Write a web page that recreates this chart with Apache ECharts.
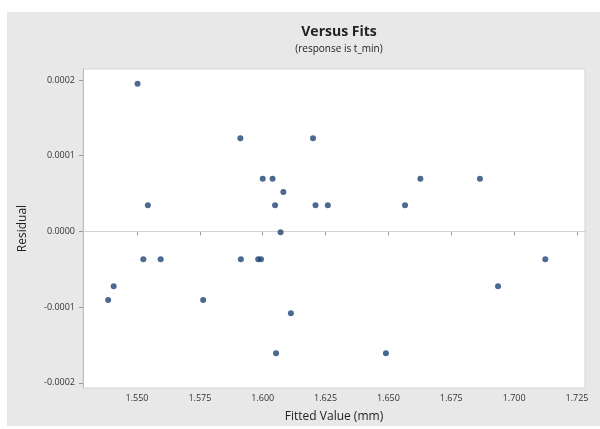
<!DOCTYPE html>
<html>
<head>
<meta charset="utf-8">
<script src="https://cdn.jsdelivr.net/npm/echarts@6/dist/echarts.min.js"></script>
<style>html,body{margin:0;padding:0;background:#fff}#c{width:600px;height:429px}</style>
</head>
<body>
<div id="c"></div>
<script>
// Fitted values (mm)
const fittedValues = [
  1.5502, 1.5911, 1.6200, 1.5543, 1.6000, 1.6039, 1.6082, 1.6049, 1.6210,
  1.6259, 1.6566, 1.6627, 1.6864, 1.6071, 1.5525, 1.5594, 1.5913, 1.5982,
  1.5993, 1.7124, 1.5407, 1.6936, 1.5385, 1.5763, 1.6112, 1.6053, 1.6490
];
// Residuals
const residuals = [
  0.000195, 0.000123, 0.000123, 0.0000345, 0.0000696, 0.0000696, 0.000052, 0.0000345, 0.0000345,
  0.0000345, 0.0000345, 0.0000696, 0.0000696, -0.000001, -0.0000369, -0.0000369, -0.0000369, -0.0000369,
  -0.0000369, -0.0000369, -0.0000725, -0.0000725, -0.0000906, -0.0000906, -0.0001082, -0.000161, -0.000161
];
const xTicks = [1.550, 1.575, 1.600, 1.625, 1.650, 1.675, 1.700, 1.725];
const yTicks = [-0.0002, -0.0001, 0, 0.0001, 0.0002];

const points = fittedValues.map((v, i) => [v, residuals[i]]);
const font = '"Open Sans", "Noto Sans", sans-serif';

const chart = echarts.init(document.getElementById('c'), null, {renderer: 'canvas'});
chart.setOption({
  animation: false,
  backgroundColor: '#ffffff',
  graphic: [{
    type: 'rect', z: -10, silent: true,
    shape: {x: 7, y: 12, width: 593, height: 414},
    style: {fill: '#e8e8e8'}
  }],
  title: [{
    text: 'Versus Fits',
    left: 334, top: 20, textAlign: 'center',
    textStyle: {fontFamily: font, fontSize: 14, fontWeight: 'bold', color: '#222'}
  }, {
    text: '(response is t_min)',
    left: 334, top: 39, textAlign: 'center',
    textStyle: {fontFamily: font, fontSize: 10, fontWeight: 'normal', color: '#222'}
  }],
  grid: {
    left: 83, right: 15, top: 69, bottom: 41,
    show: true, backgroundColor: '#ffffff', borderColor: '#d4d4d4', borderWidth: 1
  },
  xAxis: {
    type: 'value', min: 1.5285, max: 1.7282,
    name: 'Fitted Value (mm)', nameLocation: 'middle', nameGap: 23,
    nameTextStyle: {fontFamily: font, fontSize: 12, color: '#222'},
    axisLine: {show: true, lineStyle: {color: '#bdbdbd'}},
    axisTick: {show: true, length: 4, customValues: xTicks, lineStyle: {color: '#999'}},
    axisLabel: {customValues: xTicks, formatter: v => v.toFixed(3),
      fontFamily: font, fontSize: 9, color: '#333', margin: 6},
    splitLine: {show: false}
  },
  yAxis: {
    type: 'value', min: -0.0002069, max: 0.0002145,
    name: 'Residual', nameLocation: 'middle', nameGap: 54, nameRotate: 90,
    nameTextStyle: {fontFamily: font, fontSize: 12, color: '#222'},
    axisLine: {show: true, lineStyle: {color: '#bdbdbd'}},
    axisTick: {show: true, length: 4, customValues: yTicks, lineStyle: {color: '#999'}},
    axisLabel: {customValues: yTicks, formatter: v => v.toFixed(4),
      fontFamily: font, fontSize: 9, color: '#333', margin: 8},
    splitLine: {show: false}
  },
  series: [{
    type: 'scatter',
    data: points,
    symbol: 'circle', symbolSize: 6,
    itemStyle: {color: '#1f4576'},
    markLine: {
      silent: true, symbol: 'none', label: {show: false},
      lineStyle: {color: '#d8d2cc', type: 'solid', width: 1},
      data: [{yAxis: 0}]
    },
    z: 5
  }]
});
</script>
</body>
</html>
